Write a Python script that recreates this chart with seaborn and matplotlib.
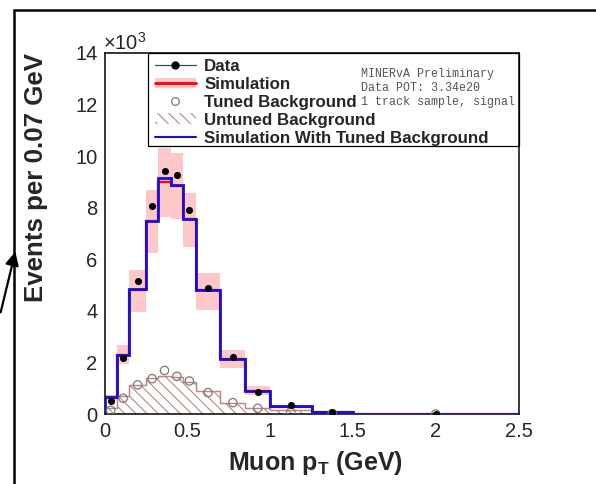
import numpy as np
import matplotlib
matplotlib.use("Agg")
import matplotlib.pyplot as plt
import seaborn as sns
from matplotlib.lines import Line2D
from matplotlib.patches import Patch, Rectangle, FancyArrowPatch
from matplotlib.ticker import MultipleLocator

# ---------------- data (events in thousands) ----------------
bin_edges = [0, 0.075, 0.15, 0.25, 0.325, 0.4, 0.475, 0.55, 0.7, 0.85, 1.0, 1.25, 1.5, 2.5]
data_vals = [0.52, 2.16, 5.16, 8.07, 9.44, 9.27, 7.90, 4.90, 2.22, 0.85, 0.33, 0.07, 0.01]
sim_vals = [0.65, 2.27, 4.82, 7.48, 8.98, 8.85, 7.57, 4.80, 2.12, 0.90, 0.29, 0.07, 0.01]
sim_low = [0.55, 1.93, 3.95, 6.26, 7.63, 7.58, 6.46, 4.05, 1.79, 0.75, 0.22, 0.04, 0.00]
sim_high = [0.75, 2.67, 5.60, 8.70, 10.33, 10.13, 8.59, 5.48, 2.48, 1.07, 0.36, 0.10, 0.02]
simtuned_vals = [0.65, 2.30, 4.84, 7.48, 9.16, 8.87, 7.55, 4.80, 2.15, 0.90, 0.30, 0.07, 0.01]
tuned_bkg = [0.14, 0.61, 1.13, 1.37, 1.69, 1.46, 1.28, 0.83, 0.44, 0.22, 0.07, 0.01, 0.00]
untuned_bkg = [0.25, 0.70, 1.12, 1.40, 1.47, 1.43, 1.25, 0.88, 0.43, 0.22, 0.17, 0.08, 0.00]

legend_labels = ["Data", "Simulation", "Tuned Background", "Untuned Background",
                 "Simulation With Tuned Background"]
info_lines = ["MINERvA Preliminary", "Data POT: 3.34e20", "1 track sample, signal"]
x_label = "Muon p$_\\mathbf{T}$ (GeV)"
y_label = "Events per 0.07 GeV"

# ---------------- style ----------------
sns.set_style("white")
plt.rcParams["font.family"] = ["Liberation Sans", "DejaVu Sans"]
plt.rcParams["mathtext.fontset"] = "custom"
plt.rcParams["mathtext.rm"] = "Liberation Sans"
plt.rcParams["mathtext.bf"] = "Liberation Sans:bold"
plt.rcParams["hatch.linewidth"] = 0.8

PINK = "#ffc8c8"
RED = "#ff0000"
BLUE = "#1a0fd0"
HATCH = "#c08484"
GREY = "#7a7a7a"

edges = np.array(bin_edges)
centers = 0.5 * (edges[:-1] + edges[1:])
widths = np.diff(edges)

fig = plt.figure(figsize=(5.96, 4.84), dpi=100)
ax = fig.add_axes([104.5 / 596, 1 - 414 / 484, 414 / 596, 361 / 484])

# simulation error band
ax.bar(centers, np.array(sim_high) - np.array(sim_low), bottom=sim_low, width=widths,
       color=PINK, edgecolor="none", zorder=1)
# untuned background, hatched
ax.stairs(untuned_bkg, edges, fill=True, facecolor="none", edgecolor=HATCH,
          hatch="\\\\\\", linewidth=0.8, zorder=2)
ax.stairs(untuned_bkg, edges, fill=False, edgecolor=HATCH, linewidth=1.0, zorder=2)
# simulation (red) and simulation with tuned background (blue)
ax.stairs(sim_vals, edges, baseline=0, color=RED, linewidth=1.6, zorder=3)
ax.stairs(simtuned_vals, edges, baseline=0, color=BLUE, linewidth=2.0, zorder=4)
# tuned background open circles
sns.scatterplot(x=centers, y=tuned_bkg, ax=ax, marker="o", s=36, facecolor="none",
                edgecolor=GREY, linewidth=0.9, zorder=5)
# data
sns.scatterplot(x=centers, y=data_vals, ax=ax, marker="o", s=26, color="black",
                edgecolor="black", linewidth=0, zorder=6)

ax.set_xlim(0, 2.5)
ax.set_ylim(0, 14)
ax.xaxis.set_major_locator(MultipleLocator(0.5))
ax.xaxis.set_minor_locator(MultipleLocator(0.1))
ax.yaxis.set_major_locator(MultipleLocator(2))
ax.yaxis.set_minor_locator(MultipleLocator(0.5))
ax.xaxis.set_major_formatter(matplotlib.ticker.FuncFormatter(lambda v, p: f"{v:g}"))
ax.tick_params(axis="both", which="both", direction="in", top=False, right=False,
               color="black", width=0.9, labelsize=14.5)
ax.tick_params(axis="y", which="major", length=10, pad=5)
ax.tick_params(axis="y", which="minor", length=5)
ax.tick_params(axis="x", which="major", length=6.5, pad=6)
ax.tick_params(axis="x", which="minor", length=3)
for sp in ax.spines.values():
    sp.set_visible(True)
    sp.set_color("black")
    sp.set_linewidth(1.1)
ax.set_xlabel("")
ax.set_ylabel("")
ax.grid(False)

# axis titles
fig.text(315 / 596, 1 - 470 / 484, x_label, ha="center", va="baseline",
         fontsize=18, fontweight="bold")
fig.text(36 / 596, 1 - 53 / 484, y_label, rotation=90, ha="center", va="top",
         fontsize=18.6, fontweight="bold")
fig.text(103 / 596, 1 - 50 / 484, "×10$^{3}$", ha="left", va="baseline", fontsize=14.5)

# legend
handles = [
    Line2D([], [], color="#444444", lw=0.9, marker="o", markersize=5,
           markerfacecolor="black", markeredgecolor="black"),
    (Patch(facecolor=PINK, edgecolor="none"), Line2D([], [], color=RED, lw=2)),
    Line2D([], [], ls="none", marker="o", markersize=5.5, markerfacecolor="none",
           markeredgecolor=GREY, markeredgewidth=0.9),
    Patch(facecolor="none", edgecolor=HATCH, hatch="\\\\\\", linewidth=0),
    Line2D([], [], color=BLUE, lw=1.5),
]
leg = ax.legend(handles, legend_labels, loc="upper left",
                bbox_to_anchor=((155 - 104.5) / 414, (414 - 59) / 361),
                frameon=False, borderpad=0, borderaxespad=0,
                prop={"family": "Liberation Sans", "weight": "bold", "size": 12.2},
                handlelength=2.4, handleheight=0.6, handletextpad=0.5,
                labelspacing=0.17)
# legend box
ax.add_patch(Rectangle(((148 - 104.5) / 414, (414 - 146) / 361),
                       (518.5 - 148) / 414, (146 - 53) / 361,
                       transform=ax.transAxes, fill=False, edgecolor="black",
                       linewidth=0.9, zorder=7, clip_on=False))

# info text
for i, line in enumerate(info_lines):
    ax.text((361 - 104.5) / 414, (414 - (73.5 + 14.4 * i)) / 361, line,
            transform=ax.transAxes, ha="left", va="center",
            family="Liberation Mono", fontsize=8.4, color="#555555")

# slide frame and arrow
fig.add_artist(Line2D([14 / 596, 14 / 596], [0, 1 - 10 / 484], transform=fig.transFigure,
                      color="black", lw=1.8))
fig.add_artist(Line2D([14 / 596, 1], [1 - 10 / 484, 1 - 10 / 484], transform=fig.transFigure,
                      color="black", lw=1.8))
fig.add_artist(FancyArrowPatch((0, 1 - 315 / 484), (16 / 596, 1 - 249 / 484),
                               transform=fig.transFigure, arrowstyle="-|>",
                               mutation_scale=20, lw=1.6, color="black"))

fig.savefig("out.png", dpi=100)
